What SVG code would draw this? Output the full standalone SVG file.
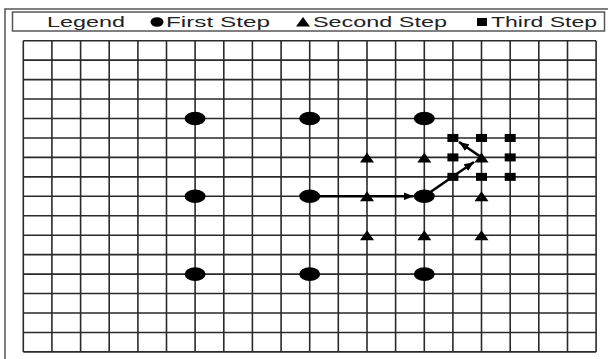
<svg xmlns="http://www.w3.org/2000/svg" width="608" height="359" viewBox="0 0 608 359">
<style>
.frame{fill:none;stroke:#555;stroke-width:1.5}
.grid{fill:none;stroke:#2a2a2a;stroke-width:1.6}
.lbl{font-family:"Liberation Sans",Arial,sans-serif;font-size:15px;fill:#222}
.mk{fill:#000}
.conn{stroke:#000;stroke-width:2.5;fill:none}
</style>
<defs>
<ellipse id="dot" cx="0" cy="0" rx="10.5" ry="6.8"/>
<polygon id="tri" points="0,-5 7,5 -7,5"/>
<rect id="sq" x="-5.5" y="-4" width="11" height="8"/>
<marker id="ah" markerWidth="10" markerHeight="8" refX="10" refY="4" orient="auto" markerUnits="userSpaceOnUse">
<polygon points="0,0 10,4 0,8" fill="#000"/>
</marker>
</defs>
<rect width="608" height="359" fill="#fff"/>
<rect class="frame" x="5" y="9" width="610" height="360"/>
<g id="legend">
<rect class="frame" x="12.5" y="12" width="592" height="19"/>
<text class="lbl" x="47" y="27.3" textLength="78" lengthAdjust="spacingAndGlyphs">Legend</text>
<ellipse class="mk" cx="157" cy="22" rx="6.5" ry="4.8"/>
<text class="lbl" x="166" y="27.3" textLength="104" lengthAdjust="spacingAndGlyphs">First Step</text>
<polygon class="mk" points="303,17 310,26.5 296,26.5"/>
<text class="lbl" x="313" y="27.3" textLength="134" lengthAdjust="spacingAndGlyphs">Second Step</text>
<rect class="mk" x="477" y="18" width="10" height="8"/>
<text class="lbl" x="491" y="27.3" textLength="106" lengthAdjust="spacingAndGlyphs">Third Step</text>
</g>
<g id="grid">
<path class="grid" d="M23.3,40.7V351.9M51.9,40.7V351.9M80.6,40.7V351.9M109.2,40.7V351.9M137.9,40.7V351.9M166.5,40.7V351.9M195.1,40.7V351.9M223.8,40.7V351.9M252.4,40.7V351.9M281.1,40.7V351.9M309.7,40.7V351.9M338.3,40.7V351.9M367,40.7V351.9M395.6,40.7V351.9M424.3,40.7V351.9M452.9,40.7V351.9M481.5,40.7V351.9M510.2,40.7V351.9M538.8,40.7V351.9M567.5,40.7V351.9M596.1,40.7V351.9
M23.3,40.7H596.1M23.3,60.15H596.1M23.3,79.6H596.1M23.3,99.05H596.1M23.3,118.5H596.1M23.3,137.95H596.1M23.3,157.4H596.1M23.3,176.85H596.1M23.3,196.3H596.1M23.3,215.75H596.1M23.3,235.2H596.1M23.3,254.65H596.1M23.3,274.1H596.1M23.3,293.55H596.1M23.3,313H596.1M23.3,332.45H596.1M23.3,351.9H596.1"/>
</g>
<g id="connectors">
<line class="conn" x1="310" y1="196.3" x2="413.5" y2="196.3" marker-end="url(#ah)"/>
<line class="conn" x1="424.3" y1="196.3" x2="474" y2="162" marker-end="url(#ah)"/>
<line class="conn" x1="481.5" y1="157.4" x2="459" y2="142" marker-end="url(#ah)"/>
</g>
<g id="first-step">
<use id="d1" href="#dot" x="195.1" y="118.5"/>
<use id="d2" href="#dot" x="309.7" y="118.5"/>
<use id="d3" href="#dot" x="424.3" y="118.5"/>
<use id="d4" href="#dot" x="195.1" y="196.3"/>
<use id="d5" href="#dot" x="309.7" y="196.3"/>
<use id="d6" href="#dot" x="424.3" y="196.3"/>
<use id="d7" href="#dot" x="195.1" y="274.1"/>
<use id="d8" href="#dot" x="309.7" y="274.1"/>
<use id="d9" href="#dot" x="424.3" y="274.1"/>
</g>
<g id="second-step">
<use id="t1" href="#tri" x="367" y="157.4"/>
<use id="t2" href="#tri" x="367" y="196.3"/>
<use id="t3" href="#tri" x="367" y="235.2"/>
<use id="t4" href="#tri" x="424.3" y="157.4"/>
<use id="t5" href="#tri" x="424.3" y="235.2"/>
<use id="t6" href="#tri" x="481.5" y="157.4"/>
<use id="t7" href="#tri" x="481.5" y="196.3"/>
<use id="t8" href="#tri" x="481.5" y="235.2"/>
</g>
<g id="third-step">
<use id="s1" href="#sq" x="452.9" y="137.95"/>
<use id="s2" href="#sq" x="452.9" y="157.4"/>
<use id="s3" href="#sq" x="452.9" y="176.85"/>
<use id="s4" href="#sq" x="481.5" y="137.95"/>
<use id="s5" href="#sq" x="481.5" y="176.85"/>
<use id="s6" href="#sq" x="510.2" y="137.95"/>
<use id="s7" href="#sq" x="510.2" y="157.4"/>
<use id="s8" href="#sq" x="510.2" y="176.85"/>
</g>
</svg>
